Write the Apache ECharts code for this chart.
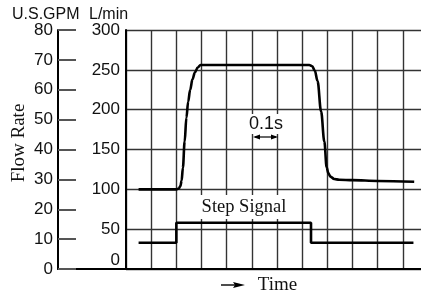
<!DOCTYPE html>
<html>
<head>
<meta charset="utf-8">
<script src="https://cdn.jsdelivr.net/npm/echarts@6/dist/echarts.min.js"></script>
<style>
  html, body { margin: 0; padding: 0; background: #fff; }
  #chart { width: 421px; height: 296px; }
</style>
</head>
<body>
<div id="chart"></div>
<script>
// time in ms, one grid column = 0.1 s
const flowTime = [50, 200, 210, 216, 221, 226, 233, 240, 247, 255, 264, 274, 285, 296, 500, 728, 740, 750, 761, 775, 788, 797, 804, 812, 827, 847, 900, 1000, 1145]
const flowValue = [100, 100, 101, 104, 111, 127, 160, 190, 210, 225, 238, 247, 253, 256, 256, 256, 254.5, 249, 236, 198, 160, 128, 120, 116, 113, 112, 111.5, 110.5, 109.5]
const stepTime = [50, 200, 200, 735, 735, 1142]
const stepValue = [33, 33, 58, 58, 33, 33]

const sans = 'Liberation Sans'
const serif = 'Liberation Serif'

const myChart = echarts.init(document.getElementById('chart'), null, { renderer: 'canvas' })

const pairs = (xs, ys) => xs.map((x, i) => [x, ys[i]])

var option = {
	animation: false,
	backgroundColor: '#fff',
	grid: [
		{ left: 126, top: 30, bottom: 27, right: 0, outerBoundsMode: 'none' }, // main, cut at the right edge
		{ left: 58, top: 30, bottom: 27, width: 68, outerBoundsMode: 'none' } // GPM strip
	],
	xAxis: [
		{
			type: 'value',
			gridIndex: 0,
			min: 0,
			max: 1172,
			interval: 100,
			axisLine: { show: true, onZero: false, lineStyle: { color: '#000', width: 2 } },
			axisTick: { show: false },
			axisLabel: { show: false },
			splitLine: { show: true, showMaxLine: false, lineStyle: { color: '#333', width: 1.4 } },
			name: 'Time',
			nameLocation: 'middle',
			nameGap: 7,
			nameTextStyle: { fontFamily: serif, fontSize: 19, color: '#111', padding: [0, 0, 0, 8] }
		},
		{
			type: 'value',
			gridIndex: 1,
			min: 0,
			max: 1,
			axisLine: { show: true, onZero: false, lineStyle: { color: '#000', width: 2 } },
			axisTick: { show: false },
			axisLabel: { show: false },
			splitLine: { show: false }
		}
	],
	yAxis: [
		{
			type: 'value',
			gridIndex: 0,
			min: 0,
			max: 300,
			interval: 50,
			axisLine: { show: true, onZero: false, lineStyle: { color: '#000', width: 2 } },
			axisTick: { show: false },
			splitLine: { show: true, lineStyle: { color: '#333', width: 1.4 } },
			axisLabel: {
				margin: 6,
				fontFamily: sans,
				fontSize: 17,
				color: '#111',
				// the 0 sits raised above the baseline
				formatter: function(v) {
					return v === 0 ? '{z|0}' : String(v)
				},
				rich: {
					z: { fontFamily: sans, fontSize: 17, color: '#111', padding: [0, 0, 18, 0] }
				}
			}
		},
		{
			type: 'value',
			gridIndex: 1,
			min: 0,
			max: 80,
			interval: 10,
			axisLine: { show: true, onZero: false, lineStyle: { color: '#000', width: 2 } },
			axisTick: { show: true, inside: true, length: 18, lineStyle: { color: '#555', width: 2 } },
			splitLine: { show: false },
			axisLabel: { margin: 5, fontFamily: sans, fontSize: 17, color: '#111' }
		}
	],
	series: [
		{
			name: 'Flow',
			type: 'line',
			xAxisIndex: 0,
			yAxisIndex: 0,
			showSymbol: false,
			smooth: 0.35,
			smoothMonotone: 'x',
			lineStyle: { color: '#000', width: 2.6 },
			data: pairs(flowTime, flowValue),
			z: 5
		},
		{
			name: 'Step Signal',
			type: 'line',
			xAxisIndex: 0,
			yAxisIndex: 0,
			showSymbol: false,
			lineStyle: { color: '#000', width: 2.6 },
			data: pairs(stepTime, stepValue),
			z: 5
		}
	],
	graphic: [
		{
			type: 'text',
			left: 12,
			top: 7,
			style: { text: 'U.S.GPM', fontFamily: sans, fontSize: 16, fill: '#111' }
		},
		{
			type: 'text',
			left: 89,
			top: 7,
			style: { text: 'L/min', fontFamily: sans, fontSize: 16, fill: '#111' }
		},
		{
			type: 'text',
			x: 19,
			y: 143,
			rotation: Math.PI / 2,
			style: {
				text: 'Flow Rate',
				fontFamily: serif,
				fontSize: 19,
				fill: '#111',
				align: 'center',
				verticalAlign: 'middle'
			}
		},
		{
			type: 'text',
			x: 244,
			y: 207,
			z: 10,
			style: {
				text: 'Step Signal',
				fontFamily: serif,
				fontSize: 18.5,
				fill: '#111',
				align: 'center',
				verticalAlign: 'middle',
				backgroundColor: '#fff',
				padding: [3, 6, 2, 6]
			}
		},
		{
			type: 'text',
			x: 266,
			y: 124,
			z: 10,
			style: {
				text: '0.1s',
				fontFamily: sans,
				fontSize: 18,
				fill: '#111',
				align: 'center',
				verticalAlign: 'middle',
				backgroundColor: '#fff',
				padding: [1, 2, 1, 2]
			}
		},
		// 0.1s span marker
		{
			type: 'line',
			z: 10,
			shape: { x1: 255, y1: 137, x2: 276, y2: 137 },
			style: { stroke: '#000', lineWidth: 1.2 }
		},
		{
			type: 'polygon',
			z: 10,
			shape: { points: [[253, 137], [260, 134.5], [260, 139.5]] },
			style: { fill: '#000' }
		},
		{
			type: 'polygon',
			z: 10,
			shape: { points: [[278, 137], [271, 134.5], [271, 139.5]] },
			style: { fill: '#000' }
		},
		// arrow in front of "Time"
		{
			type: 'line',
			shape: { x1: 221, y1: 285, x2: 236, y2: 285 },
			style: { stroke: '#000', lineWidth: 1.4 }
		},
		{
			type: 'polygon',
			shape: { points: [[245, 285], [233, 282], [235, 285], [233, 288]] },
			style: { fill: '#000' }
		}
	]
}
myChart.setOption(option)
</script>
</body>
</html>
